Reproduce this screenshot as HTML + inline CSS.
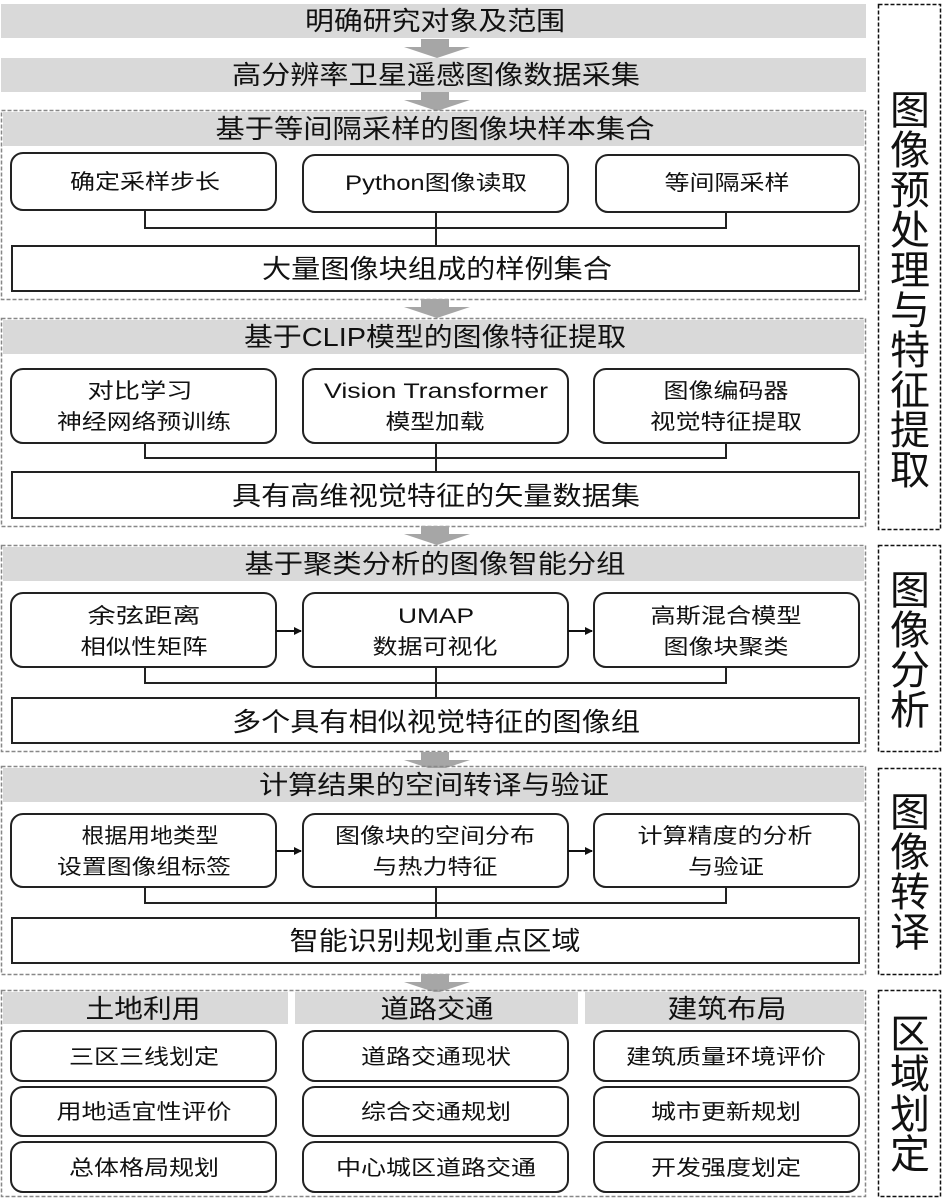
<!DOCTYPE html>
<html><head><meta charset="utf-8"><style>
html,body{margin:0;padding:0;background:#fff;}
svg{display:block;}
text{font-family:"Liberation Sans","Noto Sans CJK SC",sans-serif;fill:#111;text-anchor:middle;}
.h{font-size:26px;}
.b{font-size:21px;}
.v{font-size:40px;}
</style></head><body>
<svg width="952" height="1201" viewBox="0 0 952 1201" xmlns="http://www.w3.org/2000/svg">
<defs>
<g id="arr"><rect x="421" y="0" width="28" height="9" fill="#a6a6a6"/><polygon points="404,8 470,8 437,19" fill="#a6a6a6"/></g>
<marker id="m" markerWidth="8" markerHeight="8" refX="7" refY="4" orient="auto" markerUnits="userSpaceOnUse"><polygon points="0,0 8,4 0,8" fill="#111"/></marker>
</defs>
<g fill="none" stroke="#222" stroke-width="2">
</g>
<!-- top bars -->
<rect x="1" y="4" width="865" height="34" fill="#d9d9d9"/>
<text class="h" x="435" y="30" textLength="260" lengthAdjust="spacingAndGlyphs">明确研究对象及范围</text>
<use href="#arr" transform="translate(0,39)"/>
<rect x="1" y="58" width="865" height="34" fill="#d9d9d9"/>
<text class="h" x="436" y="84" textLength="408" lengthAdjust="spacingAndGlyphs">高分辨率卫星遥感图像数据采集</text>
<use href="#arr" transform="translate(0,92)"/>

<!-- Section 1 -->
<rect x="1.5" y="110.5" width="864" height="189" fill="none" stroke="#888" stroke-width="1.5" stroke-dasharray="4,2"/>
<rect x="3" y="112" width="861" height="34" fill="#d9d9d9"/>
<text class="h" x="435" y="138" textLength="439" lengthAdjust="spacingAndGlyphs">基于等间隔采样的图像块样本集合</text>
<g fill="#fff" stroke="#222" stroke-width="2">
<rect x="11" y="153" width="265" height="57" rx="12"/>
<rect x="303" y="155" width="265" height="57" rx="12"/>
<rect x="596" y="155" width="263" height="57" rx="12"/>
<rect x="12" y="246" width="847" height="45"/>
</g>
<path d="M145 210V228H726V212M436 212V246" fill="none" stroke="#222" stroke-width="2"/>
<text class="b" x="145" y="189" textLength="150" lengthAdjust="spacingAndGlyphs">确定采样步长</text>
<text class="b" x="436" y="190" textLength="182" lengthAdjust="spacingAndGlyphs">Python图像读取</text>
<text class="b" x="727" y="190" textLength="125" lengthAdjust="spacingAndGlyphs">等间隔采样</text>
<text class="h" x="437" y="278" textLength="350" lengthAdjust="spacingAndGlyphs">大量图像块组成的样例集合</text>
<use href="#arr" transform="translate(0,299)"/>

<!-- Section 2 -->
<rect x="1.5" y="318.5" width="864" height="208" fill="none" stroke="#888" stroke-width="1.5" stroke-dasharray="4,2"/>
<rect x="3" y="320" width="861" height="34" fill="#d9d9d9"/>
<text class="h" x="435" y="346" textLength="382" lengthAdjust="spacingAndGlyphs">基于CLIP模型的图像特征提取</text>
<g fill="#fff" stroke="#222" stroke-width="2">
<rect x="11" y="369" width="265" height="74" rx="12"/>
<rect x="303" y="369" width="265" height="74" rx="12"/>
<rect x="594" y="369" width="265" height="74" rx="12"/>
<rect x="12" y="472" width="847" height="46"/>
</g>
<path d="M145 443V458H726V443M436 443V472" fill="none" stroke="#222" stroke-width="2"/>
<text class="b" x="140" y="398" textLength="105" lengthAdjust="spacingAndGlyphs">对比学习</text>
<text class="b" x="144" y="429" textLength="174" lengthAdjust="spacingAndGlyphs">神经网络预训练</text>
<text class="b" x="436" y="398" textLength="224" lengthAdjust="spacingAndGlyphs">Vision Transformer</text>
<text class="b" x="435" y="429" textLength="99" lengthAdjust="spacingAndGlyphs">模型加载</text>
<text class="b" x="726" y="398" textLength="125" lengthAdjust="spacingAndGlyphs">图像编码器</text>
<text class="b" x="726" y="429" textLength="152" lengthAdjust="spacingAndGlyphs">视觉特征提取</text>
<text class="h" x="436" y="505" textLength="408" lengthAdjust="spacingAndGlyphs">具有高维视觉特征的矢量数据集</text>
<use href="#arr" transform="translate(0,526)"/>

<!-- Section 3 -->
<rect x="1.5" y="545.5" width="864" height="206" fill="none" stroke="#888" stroke-width="1.5" stroke-dasharray="4,2"/>
<rect x="3" y="547" width="861" height="34" fill="#d9d9d9"/>
<text class="h" x="435" y="573" textLength="381" lengthAdjust="spacingAndGlyphs">基于聚类分析的图像智能分组</text>
<g fill="#fff" stroke="#222" stroke-width="2">
<rect x="11" y="593" width="265" height="74" rx="12"/>
<rect x="303" y="593" width="265" height="74" rx="12"/>
<rect x="594" y="593" width="265" height="74" rx="12"/>
<rect x="12" y="698" width="847" height="45"/>
</g>
<path d="M145 667V683H726V667M436 667V698" fill="none" stroke="#222" stroke-width="2"/>
<line x1="276" y1="631" x2="301" y2="631" stroke="#111" stroke-width="2" marker-end="url(#m)"/>
<line x1="568" y1="631" x2="592" y2="631" stroke="#111" stroke-width="2" marker-end="url(#m)"/>
<text class="b" x="144" y="623" textLength="113" lengthAdjust="spacingAndGlyphs">余弦距离</text>
<text class="b" x="144" y="654" textLength="127" lengthAdjust="spacingAndGlyphs">相似性矩阵</text>
<text class="b" x="436" y="623" textLength="76" lengthAdjust="spacingAndGlyphs">UMAP</text>
<text class="b" x="435" y="654" textLength="125" lengthAdjust="spacingAndGlyphs">数据可视化</text>
<text class="b" x="726" y="623" textLength="151" lengthAdjust="spacingAndGlyphs">高斯混合模型</text>
<text class="b" x="726" y="654" textLength="125" lengthAdjust="spacingAndGlyphs">图像块聚类</text>
<text class="h" x="436" y="731" textLength="408" lengthAdjust="spacingAndGlyphs">多个具有相似视觉特征的图像组</text>
<use href="#arr" transform="translate(0,752)"/>

<!-- Section 4 -->
<rect x="1.5" y="766.5" width="864" height="208" fill="none" stroke="#888" stroke-width="1.5" stroke-dasharray="4,2"/>
<rect x="3" y="768" width="861" height="34" fill="#d9d9d9"/>
<text class="h" x="434" y="794" textLength="350" lengthAdjust="spacingAndGlyphs">计算结果的空间转译与验证</text>
<g fill="#fff" stroke="#222" stroke-width="2">
<rect x="11" y="814" width="265" height="73" rx="12"/>
<rect x="303" y="814" width="265" height="73" rx="12"/>
<rect x="594" y="814" width="265" height="73" rx="12"/>
<rect x="12" y="918" width="847" height="45"/>
</g>
<path d="M145 887V903H726V887M436 887V918" fill="none" stroke="#222" stroke-width="2"/>
<line x1="276" y1="851" x2="301" y2="851" stroke="#111" stroke-width="2" marker-end="url(#m)"/>
<line x1="568" y1="851" x2="592" y2="851" stroke="#111" stroke-width="2" marker-end="url(#m)"/>
<text class="b" x="150" y="843" textLength="137" lengthAdjust="spacingAndGlyphs">根据用地类型</text>
<text class="b" x="144" y="874" textLength="174" lengthAdjust="spacingAndGlyphs">设置图像组标签</text>
<text class="b" x="435" y="843" textLength="200" lengthAdjust="spacingAndGlyphs">图像块的空间分布</text>
<text class="b" x="435" y="874" textLength="125" lengthAdjust="spacingAndGlyphs">与热力特征</text>
<text class="b" x="725" y="843" textLength="175" lengthAdjust="spacingAndGlyphs">计算精度的分析</text>
<text class="b" x="726" y="874" textLength="76" lengthAdjust="spacingAndGlyphs">与验证</text>
<text class="h" x="435" y="950" textLength="291" lengthAdjust="spacingAndGlyphs">智能识别规划重点区域</text>
<use href="#arr" transform="translate(0,974)"/>

<!-- Section 5 -->
<rect x="1.5" y="990.5" width="864" height="206" fill="none" stroke="#888" stroke-width="1.5" stroke-dasharray="4,2"/>
<rect x="3" y="992" width="285" height="32" fill="#d9d9d9"/>
<rect x="295" y="992" width="283" height="32" fill="#d9d9d9"/>
<rect x="585" y="992" width="279" height="32" fill="#d9d9d9"/>
<text class="h" x="143" y="1018" textLength="115" lengthAdjust="spacingAndGlyphs">土地利用</text>
<text class="h" x="437" y="1018" textLength="113" lengthAdjust="spacingAndGlyphs">道路交通</text>
<text class="h" x="727" y="1018" textLength="119" lengthAdjust="spacingAndGlyphs">建筑布局</text>
<g fill="#fff" stroke="#222" stroke-width="2">
<rect x="11" y="1031" width="265" height="50" rx="12"/>
<rect x="303" y="1031" width="265" height="50" rx="12"/>
<rect x="594" y="1031" width="265" height="50" rx="12"/>
<rect x="11" y="1087" width="265" height="49" rx="12"/>
<rect x="303" y="1087" width="265" height="49" rx="12"/>
<rect x="594" y="1087" width="265" height="49" rx="12"/>
<rect x="11" y="1142" width="265" height="50" rx="12"/>
<rect x="303" y="1142" width="265" height="50" rx="12"/>
<rect x="594" y="1142" width="265" height="50" rx="12"/>
</g>
<text class="b" x="144" y="1064" textLength="150" lengthAdjust="spacingAndGlyphs">三区三线划定</text>
<text class="b" x="436" y="1064" textLength="150" lengthAdjust="spacingAndGlyphs">道路交通现状</text>
<text class="b" x="726" y="1064" textLength="200" lengthAdjust="spacingAndGlyphs">建筑质量环境评价</text>
<text class="b" x="144" y="1119" textLength="175" lengthAdjust="spacingAndGlyphs">用地适宜性评价</text>
<text class="b" x="436" y="1119" textLength="150" lengthAdjust="spacingAndGlyphs">综合交通规划</text>
<text class="b" x="726" y="1119" textLength="150" lengthAdjust="spacingAndGlyphs">城市更新规划</text>
<text class="b" x="144" y="1175" textLength="150" lengthAdjust="spacingAndGlyphs">总体格局规划</text>
<text class="b" x="436" y="1175" textLength="200" lengthAdjust="spacingAndGlyphs">中心城区道路交通</text>
<text class="b" x="726" y="1175" textLength="150" lengthAdjust="spacingAndGlyphs">开发强度划定</text>

<!-- right labels -->
<g fill="none" stroke="#111" stroke-width="1.5" stroke-dasharray="4,2">
<rect x="878.5" y="4.5" width="62" height="525"/>
<rect x="878.5" y="545.5" width="62" height="206"/>
<rect x="878.5" y="768.5" width="62" height="206"/>
<rect x="878.5" y="990.5" width="62" height="206"/>
</g>
<g class="v">
<text class="v" x="910" y="124">图</text>
<text class="v" x="910" y="164">像</text>
<text class="v" x="910" y="204">预</text>
<text class="v" x="910" y="244">处</text>
<text class="v" x="910" y="284">理</text>
<text class="v" x="910" y="324">与</text>
<text class="v" x="910" y="364">特</text>
<text class="v" x="910" y="404">征</text>
<text class="v" x="910" y="444">提</text>
<text class="v" x="910" y="484">取</text>
<text class="v" x="910" y="604">图</text>
<text class="v" x="910" y="644">像</text>
<text class="v" x="910" y="684">分</text>
<text class="v" x="910" y="724">析</text>
<text class="v" x="910" y="826">图</text>
<text class="v" x="910" y="866">像</text>
<text class="v" x="910" y="906">转</text>
<text class="v" x="910" y="946">译</text>
<text class="v" x="910" y="1048">区</text>
<text class="v" x="910" y="1088">域</text>
<text class="v" x="910" y="1128">划</text>
<text class="v" x="910" y="1168">定</text>
</g>
</svg>
</body></html>
